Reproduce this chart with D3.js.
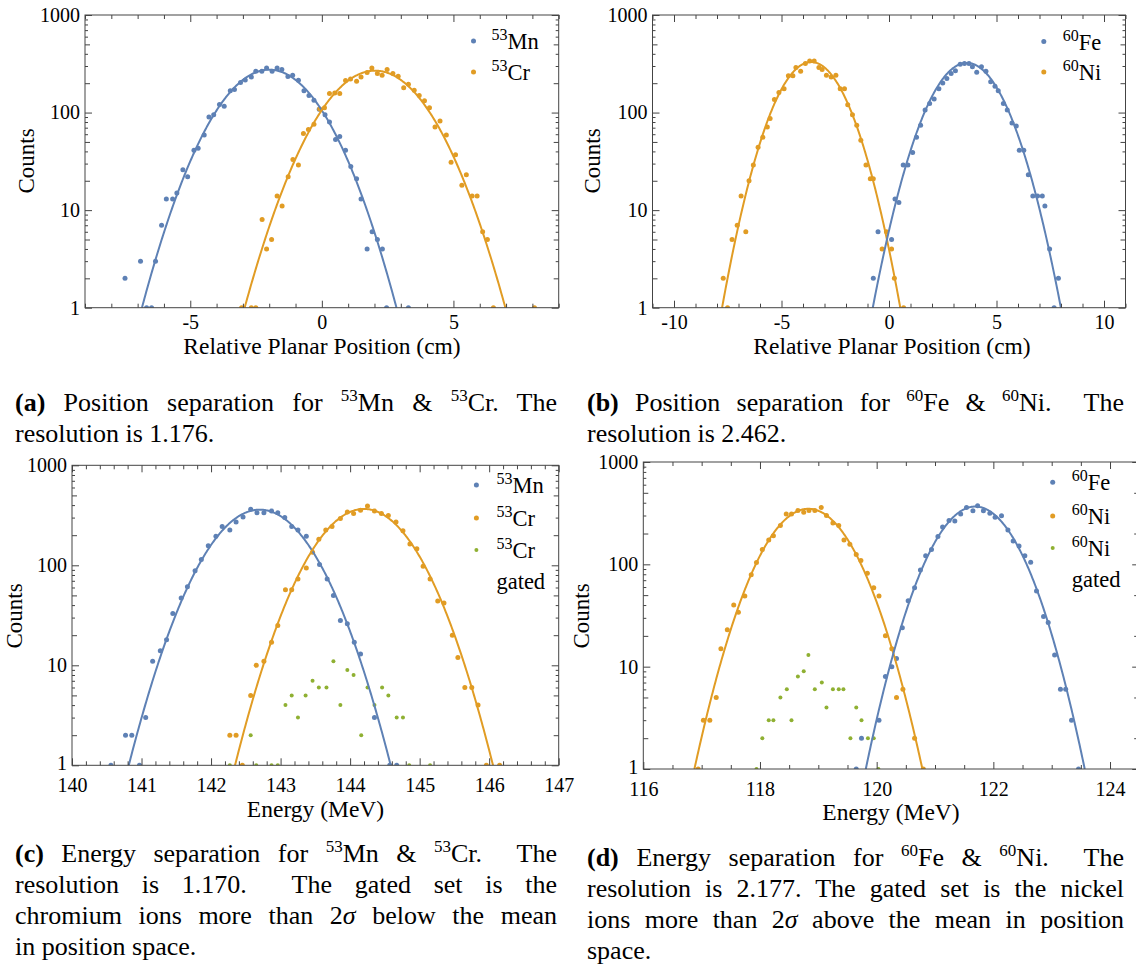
<!DOCTYPE html>
<html>
<head>
<meta charset="utf-8">
<script src="https://cdn.jsdelivr.net/npm/d3@7"></script>
<style>
  body { margin: 0; background: #fff; }
  #wrap { position: relative; width: 1136px; height: 967px; overflow: hidden; }
  .cap { position: absolute; font-family: "Liberation Serif", serif; font-size: 26px; line-height: 31px; color: #000; }
  .cap div { text-align: justify; text-align-last: justify; white-space: normal; }
  .cap div.last { text-align-last: left; }
  .cap sup { font-size: 17px; line-height: 0; vertical-align: 0; position: relative; top: -10px; }
</style>
</head>
<body>
<div id="wrap"></div>
<script>
// colours (Mathematica default palette)
const BLUE = "#5e81b5", ORANGE = "#e19c24", GREEN = "#8fb032";
const SERIF = "Liberation Serif";

// (a) position, 53Mn / 53Cr : [cm, counts]
const posMn = [[-7.48,2],[-6.89,3],[-6.66,1],[-6.47,1],[-6.32,3],[-6.09,7],[-5.91,13],[-5.67,13],[-5.51,15],[-5.28,26],[-5.10,22],
  [-4.86,41],[-4.70,43],[-4.47,59],[-4.29,90],[-4.11,95],[-3.89,121],[-3.71,116],[-3.48,167],[-3.32,172],[-3.09,203],[-2.91,216],
  [-2.68,232],[-2.51,265],[-2.28,265],[-2.10,287],[-1.89,265],[-1.70,287],[-1.52,276],[-1.29,234],[-1.11,241],[-0.89,214],[-0.68,167],
  [-0.49,150],[-0.30,134],[-0.10,108],[0.12,95],[0.29,80],[0.52,53],[0.68,57],[0.90,41],[1.10,28],[1.32,21],[1.49,13],[1.72,4],
  [1.91,6],[2.11,5],[2.30,4],[2.46,1],[3.29,1]];
const posCr = [[-3.05,1],[-2.68,1],[-2.51,1],[-2.27,8],[-2.10,4],[-1.91,5],[-1.70,14],[-1.51,11],[-1.28,22],[-1.10,33],[-0.89,29],
  [-0.70,61],[-0.51,67],[-0.30,76],[-0.08,109],[0.10,112],[0.29,157],[0.49,159],[0.68,157],[0.90,213],[1.09,221],[1.32,209],[1.49,232],
  [1.72,257],[1.90,287],[2.11,251],[2.29,241],[2.48,276],[2.70,251],[2.90,236],[3.11,180],[3.29,195],[3.51,169],[3.70,150],[3.90,132],
  [4.09,112],[4.30,71],[4.49,82],[4.73,59],[4.91,31],[5.08,37],[5.32,18],[5.49,23],[5.71,14],[5.90,14],[6.11,6],[6.29,5],[6.52,1],[8.08,1]];

// (b) position, 60Fe / 60Ni
const posFe = [[-0.73,2],[-0.51,6],[0.12,5],[0.28,13],[0.46,12],[0.66,29],[0.88,29],[1.10,39],[1.28,56],[1.47,74],[1.68,106],[1.89,124],
  [2.10,138],[2.32,175],[2.50,201],[2.69,223],[2.89,251],[3.09,269],[3.31,313],[3.51,318],[3.72,318],[3.88,294],[4.08,259],[4.30,294],
  [4.51,265],[4.73,207],[4.93,186],[5.08,167],[5.32,124],[5.50,106],[5.72,78],[5.92,73],[6.06,41],[6.27,41],[6.48,23],[6.69,14],
  [6.91,14],[7.13,14],[7.25,11],[7.47,4],[7.68,1],[7.88,2]];
const posNi = [[-7.71,2],[-7.51,1],[-7.30,5],[-7.06,7],[-6.88,14],[-6.66,6],[-6.51,20],[-6.31,29],[-6.09,44],[-5.87,56],[-5.66,71],
  [-5.53,87],[-5.33,136],[-5.12,161],[-4.88,175],[-4.68,239],[-4.47,239],[-4.33,289],[-4.11,265],[-3.89,318],[-3.69,338],[-3.48,338],
  [-3.26,289],[-3.11,276],[-2.91,241],[-2.69,232],[-2.47,241],[-2.27,175],[-2.07,175],[-1.92,120],[-1.70,95],[-1.50,74],[-1.31,52],
  [-1.07,29],[-0.87,21],[-0.73,21],[-0.32,4],[-0.12,6],[0.12,4],[0.25,2],[0.68,1]];

// (c) energy, 53Mn / 53Cr / gated 53Cr : [MeV, counts]
const enMn = [[140.56,1],[140.77,2],[140.86,2],[140.97,1],[141.06,3],[141.16,11],[141.27,14],[141.36,18],[141.45,33],[141.57,47],
  [141.66,61],[141.77,88],[141.86,114],[141.96,157],[142.07,195],[142.16,244],[142.27,226],[142.36,271],[142.46,304],[142.57,363],
  [142.66,336],[142.76,336],[142.87,349],[142.96,336],[143.06,300],[143.16,244],[143.25,226],[143.37,195],[143.56,102],[143.67,73],
  [143.76,50],[143.86,28],[143.96,26],[144.06,17],[144.15,13],[144.35,3],[144.57,1],[144.67,1]];
const enCr = [[142.27,2],[142.36,2],[142.45,1],[142.57,5],[142.65,10],[142.76,11],[142.87,17],[142.96,25],[143.07,57],[143.16,57],
  [143.25,73],[143.37,94],[143.46,135],[143.55,182],[143.65,226],[143.74,244],[143.86,293],[143.96,341],[144.05,329],[144.15,355],
  [144.25,392],[144.35,349],[144.45,329],[144.55,314],[144.66,271],[144.76,222],[144.86,163],[144.96,146],[145.05,98],[145.15,73],
  [145.26,44],[145.35,42],[145.47,20],[145.55,12],[145.65,6],[145.75,6],[145.84,4],[145.96,1],[146.15,1]];
const enCrGated = [[142.27,1],[142.57,2],[142.65,1],[142.87,1],[142.96,1],[143.07,4],[143.16,5],[143.25,3],[143.36,5],[143.46,7],
  [143.55,6],[143.66,6],[143.76,11],[143.86,4],[143.96,9],[144.05,8],[144.16,2],[144.25,6],[144.35,4],[144.46,6],[144.55,5],
  [144.67,3],[144.76,3],[144.85,1],[145.15,1]];

// (d) energy, 60Fe / 60Ni / gated 60Ni
const enFe = [[119.65,1],[119.74,2],[120.04,3],[120.15,8],[120.26,10],[120.34,12],[120.44,24],[120.54,44],[120.65,59],[120.75,88],
  [120.84,121],[120.94,140],[121.05,187],[121.13,231],[121.24,268],[121.34,265],[121.44,311],[121.54,359],[121.65,333],[121.73,373],
  [121.83,333],[121.94,316],[122.03,289],[122.14,298],[122.25,217],[122.34,169],[122.44,151],[122.54,121],[122.64,105],[122.74,55],
  [122.86,31],[122.94,27],[123.05,13],[123.15,6],[123.24,6],[123.34,3],[123.46,1]];
const enNi = [[116.94,1],[117.03,3],[117.14,3],[117.25,5],[117.33,15],[117.44,23],[117.55,40],[117.63,34],[117.74,49],[117.85,79],
  [117.94,104],[118.04,140],[118.15,173],[118.23,190],[118.35,239],[118.45,311],[118.54,311],[118.65,336],[118.75,323],[118.84,336],
  [118.94,336],[119.05,359],[119.14,300],[119.25,253],[119.35,239],[119.44,173],[119.54,157],[119.65,125],[119.73,109],[119.84,82],
  [119.95,59],[120.04,49],[120.15,20],[120.26,15],[120.34,5],[120.45,6],[120.65,2],[120.80,1]];
const enNiGated = [[117.94,1],[118.04,2],[118.15,3],[118.23,3],[118.35,5],[118.46,6],[118.54,3],[118.65,8],[118.75,9],[118.83,13],
  [118.94,6],[119.06,7],[119.14,4],[119.25,6],[119.35,6],[119.43,6],[119.55,2],[119.65,4],[119.74,3],[119.85,2],[119.95,2],[120.03,1]];

// gaussian fits: [peak, mean, sigma]
const fitPosMn = [275, -2.00, 1.443];
const fitPosCr = [269, 2.02, 1.481];
const fitPosFe = [323, 3.62, 1.287];
const fitPosNi = [330, -3.62, 1.217];
const fitEnMn = [360, 142.70, 0.549];
const fitEnCr = [366, 144.20, 0.540];
const fitEnFe = [367, 121.69, 0.546];
const fitEnNi = [349, 118.83, 0.571];

const yMajor = [1, 10, 100, 1000];

const W = 1136, H = 967;

const wrap = d3.select("#wrap");
const svg = wrap.append("svg")
  .attr("width", W).attr("height", H)
  .attr("font-family", SERIF)
  .style("position", "absolute").style("left", 0).style("top", 0);

function steps(a, b, s) {
  const n = Math.round((b - a) / s);
  return d3.range(n + 1).map(i => +(a + i * s).toFixed(4));
}

function drawPanel(p) {
  const x = d3.scaleLinear().domain(p.xDomain).range([p.left, p.right]);
  const y = d3.scaleLog().domain([1, 1000]).range([p.bottom, p.top]);
  const g = svg.append("g");

  g.append("clipPath").attr("id", "clip-" + p.id)
    .append("rect")
      .attr("x", p.left).attr("y", p.top)
      .attr("width", p.right - p.left).attr("height", p.bottom - p.top);

  const plot = g.append("g").attr("clip-path", "url(#clip-" + p.id + ")");

  // points
  p.series.forEach(s => {
    plot.selectAll(null)
      .data(s.data)
      .enter()
      .append("circle")
        .attr("cx", d => x(d[0]))
        .attr("cy", d => y(d[1]))
        .attr("r", s.r)
        .attr("fill", s.color);
  });

  // fitted curves
  const line = d3.line().x(d => x(d[0])).y(d => y(d[1]));
  p.fits.forEach(f => {
    const [A, mu, sd] = f.fit;
    const half = sd * Math.sqrt(2 * Math.log(A));
    const xs = steps(mu - half, mu + half, (2 * half) / 300);
    const pts = xs.map(v => [v, Math.max(1, A * Math.exp(-((v - mu) ** 2) / (2 * sd * sd)))]);
    plot.append("path")
      .datum(pts)
      .attr("d", line)
      .attr("fill", "none")
      .attr("stroke", f.color)
      .attr("stroke-width", 2);
  });

  // ticks
  const yMid = [], yMin = [];
  [1, 10, 100].forEach(k => {
    [2, 5].forEach(m => yMid.push(m * k));
    [3, 4, 6, 7, 8, 9].forEach(m => yMin.push(m * k));
  });
  const xMinor = steps(p.minorFrom, p.minorTo, p.minorStep).filter(v => !p.xMajor.some(m => Math.abs(m - v) < 1e-6));

  function styleAxis(a) {
    a.select(".domain").remove();
    a.attr("font-family", SERIF).attr("font-size", 20);
    a.selectAll("line").attr("stroke", "#444");
    a.selectAll("text").attr("fill", "#000").attr("font-family", SERIF);
  }
  const fmt = d => (d < 0 ? "-" + Math.abs(d) : String(d));

  g.append("g").attr("transform", "translate(0," + p.bottom + ")")
    .call(d3.axisBottom(x).tickValues(p.xMajor).tickSize(-7).tickPadding(p.xPad).tickFormat(fmt)).call(styleAxis);
  g.append("g").attr("transform", "translate(0," + p.bottom + ")")
    .call(d3.axisBottom(x).tickValues(xMinor).tickSize(-4).tickFormat("")).call(styleAxis);
  g.append("g").attr("transform", "translate(0," + p.top + ")")
    .call(d3.axisTop(x).tickValues(p.xMajor).tickSize(-7).tickFormat("")).call(styleAxis);
  g.append("g").attr("transform", "translate(0," + p.top + ")")
    .call(d3.axisTop(x).tickValues(xMinor).tickSize(-4).tickFormat("")).call(styleAxis);

  const yAx = g.append("g").attr("transform", "translate(" + p.left + ",0)")
    .call(d3.axisLeft(y).tickValues(yMajor).tickSize(-7).tickPadding(5).tickFormat(d3.format("d"))).call(styleAxis);
  // lift the lowest label a little so it clears the first x label
  yAx.selectAll(".tick text").filter(d => d === 1).attr("y", -p.oneLift);
  g.append("g").attr("transform", "translate(" + p.left + ",0)")
    .call(d3.axisLeft(y).tickValues(yMid).tickSize(-5).tickFormat("")).call(styleAxis);
  g.append("g").attr("transform", "translate(" + p.left + ",0)")
    .call(d3.axisLeft(y).tickValues(yMin).tickSize(-3).tickFormat("")).call(styleAxis);
  g.append("g").attr("transform", "translate(" + p.right + ",0)")
    .call(d3.axisRight(y).tickValues(yMajor).tickSize(-7).tickFormat("")).call(styleAxis);
  g.append("g").attr("transform", "translate(" + p.right + ",0)")
    .call(d3.axisRight(y).tickValues(yMid).tickSize(-5).tickFormat("")).call(styleAxis);
  g.append("g").attr("transform", "translate(" + p.right + ",0)")
    .call(d3.axisRight(y).tickValues(yMin).tickSize(-3).tickFormat("")).call(styleAxis);

  // frame
  g.append("rect")
    .attr("x", p.left).attr("y", p.top)
    .attr("width", p.right - p.left).attr("height", p.bottom - p.top)
    .attr("fill", "none").attr("stroke", "#444").attr("stroke-width", 1);

  // axis titles
  g.append("text")
    .attr("x", p.xTitle[0]).attr("y", p.xTitle[1])
    .attr("text-anchor", "middle")
    .attr("font-family", SERIF).attr("font-size", 23.5)
    .text(p.xLabel);
  g.append("text")
    .attr("transform", "translate(" + p.yTitle[0] + "," + p.yTitle[1] + ") rotate(-90)")
    .attr("text-anchor", "middle").attr("dominant-baseline", "central")
    .attr("font-family", SERIF).attr("font-size", 23)
    .text("Counts");

  // legend
  p.legend.forEach((e, i) => {
    const ly = p.legendY[i];
    g.append("circle").attr("cx", p.legendX).attr("cy", ly).attr("r", e.r).attr("fill", e.color);
    const t = g.append("text")
      .attr("x", p.legendX + p.legendGap).attr("y", ly + 8)
      .attr("font-family", SERIF).attr("font-size", 22.5);
    t.append("tspan").attr("dy", -9).attr("font-size", 16).text(e.mass);
    t.append("tspan").attr("dy", 9).text(e.el);
    if (e.extra) {
      g.append("text")
        .attr("x", p.legendX + p.legendGap).attr("y", ly + 39)
        .attr("font-family", SERIF).attr("font-size", 22.5)
        .text(e.extra);
    }
  });
}

drawPanel({
  id: "a", left: 85, right: 558.7, top: 15, bottom: 307.7,
  xDomain: [-9, 9], xMajor: [-5, 0, 5], minorFrom: -9, minorTo: 9, minorStep: 1, xPad: 7, oneLift: 0,
  xLabel: "Relative Planar Position (cm)", xTitle: [322, 354], yTitle: [26, 161],
  series: [{data: posMn, color: BLUE, r: 2.5}, {data: posCr, color: ORANGE, r: 2.5}],
  fits: [{fit: fitPosMn, color: BLUE}, {fit: fitPosCr, color: ORANGE}],
  legend: [{mass: "53", el: "Mn", color: BLUE, r: 2.5}, {mass: "53", el: "Cr", color: ORANGE, r: 2.5}],
  legendX: 473.5, legendY: [41, 72], legendGap: 18
});

drawPanel({
  id: "b", left: 652.5, right: 1125.5, top: 15, bottom: 307.7,
  xDomain: [-11, 11], xMajor: [-10, -5, 0, 5, 10], minorFrom: -11, minorTo: 11, minorStep: 1, xPad: 7, oneLift: 0,
  xLabel: "Relative Planar Position (cm)", xTitle: [892, 354], yTitle: [592, 161],
  series: [{data: posNi, color: ORANGE, r: 2.5}, {data: posFe, color: BLUE, r: 2.5}],
  fits: [{fit: fitPosNi, color: ORANGE}, {fit: fitPosFe, color: BLUE}],
  legend: [{mass: "60", el: "Fe", color: BLUE, r: 2.5}, {mass: "60", el: "Ni", color: ORANGE, r: 2.5}],
  legendX: 1043.8, legendY: [41.5, 72], legendGap: 19
});

drawPanel({
  id: "c", left: 72, right: 558.7, top: 465.3, bottom: 765.3,
  xDomain: [140, 147], xMajor: [140, 141, 142, 143, 144, 145, 146, 147], minorFrom: 140, minorTo: 147, minorStep: 0.2, xPad: 12.6, oneLift: 2,
  xLabel: "Energy (MeV)", xTitle: [315.5, 817], yTitle: [14, 616],
  series: [{data: enMn, color: BLUE, r: 2.5}, {data: enCr, color: ORANGE, r: 2.5}, {data: enCrGated, color: GREEN, r: 2}],
  fits: [{fit: fitEnMn, color: BLUE}, {fit: fitEnCr, color: ORANGE}],
  legend: [{mass: "53", el: "Mn", color: BLUE, r: 2.5}, {mass: "53", el: "Cr", color: ORANGE, r: 2.5},
           {mass: "53", el: "Cr", color: GREEN, r: 2, extra: "gated"}],
  legendX: 476.4, legendY: [485, 518, 550], legendGap: 20
});

drawPanel({
  id: "d", left: 643.3, right: 1139.2, top: 462, bottom: 769,
  xDomain: [116, 124.5], xMajor: [116, 118, 120, 122, 124], minorFrom: 116, minorTo: 124.5, minorStep: 0.5, xPad: 12.6, oneLift: 2,
  xLabel: "Energy (MeV)", xTitle: [891, 820], yTitle: [581, 616],
  series: [{data: enNi, color: ORANGE, r: 2.5}, {data: enFe, color: BLUE, r: 2.5}, {data: enNiGated, color: GREEN, r: 2}],
  fits: [{fit: fitEnNi, color: ORANGE}, {fit: fitEnFe, color: BLUE}],
  legend: [{mass: "60", el: "Fe", color: BLUE, r: 2.5}, {mass: "60", el: "Ni", color: ORANGE, r: 2.5},
           {mass: "60", el: "Ni", color: GREEN, r: 2, extra: "gated"}],
  legendX: 1052.7, legendY: [482.3, 516, 548], legendGap: 19
});

// captions
const captions = [
  {left: 15, top: 386.5, width: 542, lines: [
    "<b>(a)</b> Position separation for <sup>53</sup>Mn &amp; <sup>53</sup>Cr. The",
    "resolution is 1.176."]},
  {left: 587, top: 386.5, width: 537, lines: [
    "<b>(b)</b> Position separation for <sup>60</sup>Fe &amp; <sup>60</sup>Ni.&nbsp; The",
    "resolution is 2.462."]},
  {left: 15, top: 837.5, width: 542, lines: [
    "<b>(c)</b> Energy separation for <sup>53</sup>Mn &amp; <sup>53</sup>Cr.&nbsp; The",
    "resolution is 1.170.&nbsp; The gated set is the",
    "chromium ions more than 2<i>σ</i> below the mean",
    "in position space."]},
  {left: 587, top: 841.5, width: 537, lines: [
    "<b>(d)</b> Energy separation for <sup>60</sup>Fe &amp; <sup>60</sup>Ni.&nbsp; The",
    "resolution is 2.177. The gated set is the nickel",
    "ions more than 2<i>σ</i> above the mean in position",
    "space."]}
];

captions.forEach(c => {
  const box = wrap.append("div").attr("class", "cap")
    .style("left", c.left + "px").style("top", c.top + "px").style("width", c.width + "px");
  c.lines.forEach((l, i) => {
    box.append("div").classed("last", i === c.lines.length - 1).html(l);
  });
});
</script>
</body>
</html>
